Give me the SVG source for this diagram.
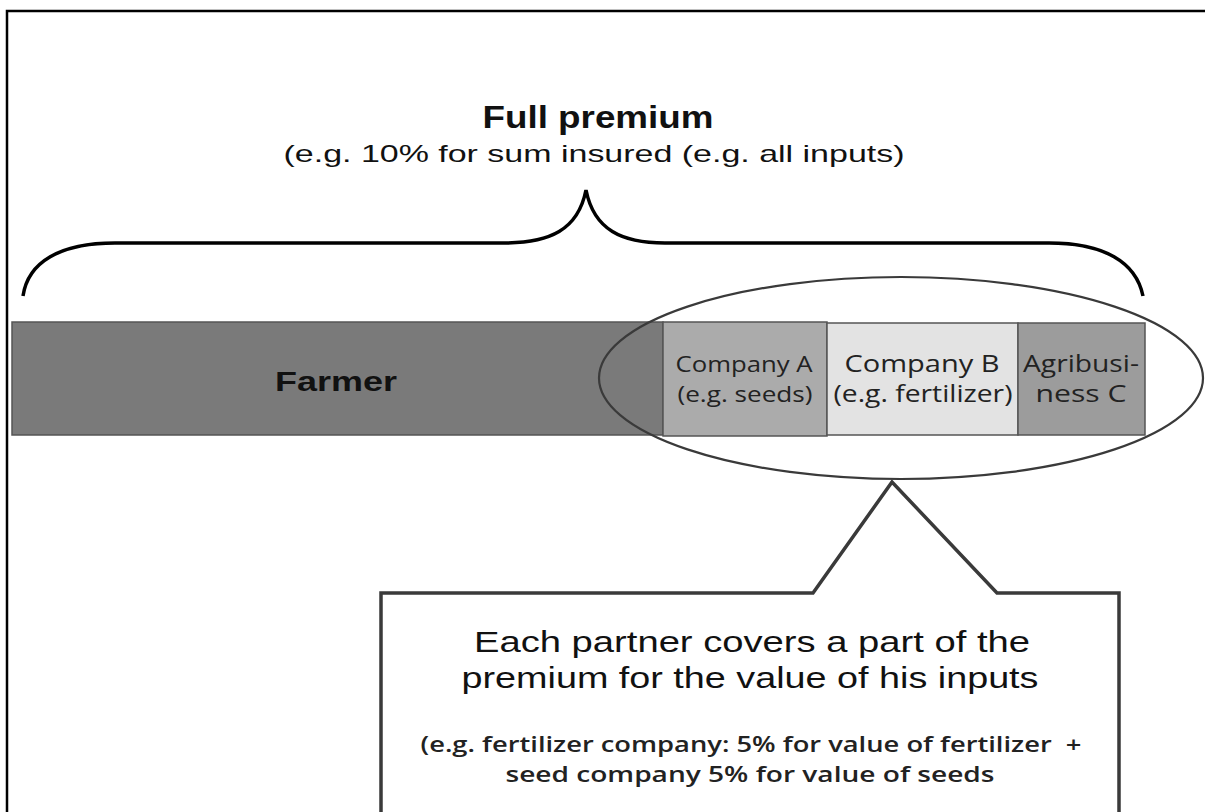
<svg xmlns="http://www.w3.org/2000/svg" width="1205" height="812" viewBox="0 0 1205 812">
<style>
.frame{fill:none;stroke:#000;stroke-width:2.5}
.brace{fill:none;stroke:#000;stroke-width:3.5}
.seg{stroke:#555;stroke-width:1.5}
.lbl{font-family:"Liberation Sans",Arial,sans-serif;fill:#111}
.co{font-family:"Open Sans","Noto Sans",sans-serif;fill:#222}
</style>
<rect width="1205" height="812" fill="#fff"/>
<path class="frame" d="M7 830 V11 H1210"/>
<g id="title">
<text class="lbl" x="598" y="128" font-size="31" font-weight="bold" text-anchor="middle" textLength="231" lengthAdjust="spacingAndGlyphs">Full premium</text>
<text class="lbl" x="594" y="162" font-size="24" fill="#222" text-anchor="middle" textLength="621" lengthAdjust="spacingAndGlyphs">(e.g. 10% for sum insured (e.g. all inputs)</text>
</g>
<g id="brace">
<path class="brace" d="M23 296 C28 262 60 243 115 243 H503 C550 243 578 230 586 190 C594 230 622 243 665 243 H1049 C1104 243 1136 262 1143 296"/>
</g>
<g id="farmer">
<rect class="seg" x="12" y="322" width="651" height="113" fill="#7a7a7a"/>
<text class="lbl" x="336" y="391" font-size="28" font-weight="bold" text-anchor="middle" textLength="122" lengthAdjust="spacingAndGlyphs">Farmer</text>
</g>
<g id="companyA">
<rect class="seg" x="663" y="322" width="164" height="114" fill="#ababab"/>
<text class="co" x="744" y="372" font-size="21" text-anchor="middle" textLength="137" lengthAdjust="spacingAndGlyphs">Company A</text>
<text class="co" x="745" y="402" font-size="21" text-anchor="middle" textLength="135" lengthAdjust="spacingAndGlyphs">(e.g. seeds)</text>
</g>
<g id="companyB">
<rect class="seg" x="827" y="323" width="191" height="112" fill="#e3e3e3"/>
<text class="co" x="922" y="372" font-size="24" text-anchor="middle" textLength="155" lengthAdjust="spacingAndGlyphs">Company B</text>
<text class="co" x="923" y="402" font-size="24" text-anchor="middle" textLength="179" lengthAdjust="spacingAndGlyphs">(e.g. fertilizer)</text>
</g>
<g id="agribusiness">
<rect class="seg" x="1018" y="323" width="127" height="112" fill="#9c9c9c"/>
<text class="co" x="1081" y="372" font-size="24" text-anchor="middle" textLength="116" lengthAdjust="spacingAndGlyphs">Agribusi-</text>
<text class="co" x="1081" y="402" font-size="24" text-anchor="middle" textLength="91" lengthAdjust="spacingAndGlyphs">ness C</text>
</g>
<g id="connectors">
<ellipse id="partners" cx="901" cy="378" rx="302" ry="101" fill="none" stroke="#3a3a3a" stroke-width="2.2"/>
</g>
<g id="callout">
<path d="M381 830 V593 H813 L892 482 L997 593 H1119 V830" fill="#fff" stroke="#3a3a3a" stroke-width="3.5" stroke-linejoin="miter"/>
<text class="lbl" x="752" y="652" font-size="29" fill="#222" text-anchor="middle" textLength="556" lengthAdjust="spacingAndGlyphs">Each partner covers a part of the</text>
<text class="lbl" x="750" y="688" font-size="29" fill="#222" text-anchor="middle" textLength="577" lengthAdjust="spacingAndGlyphs">premium for the value of his inputs</text>
<text x="751" y="752" font-family="'Open Sans','Noto Sans',sans-serif" font-weight="600" font-size="22" fill="#222" text-anchor="middle" textLength="661" lengthAdjust="spacingAndGlyphs" xml:space="preserve">(e.g. fertilizer company: 5% for value of fertilizer  +</text>
<text x="750" y="782" font-family="'Open Sans','Noto Sans',sans-serif" font-weight="600" font-size="22" fill="#222" text-anchor="middle" textLength="489" lengthAdjust="spacingAndGlyphs">seed company 5% for value of seeds</text>
</g>
</svg>
